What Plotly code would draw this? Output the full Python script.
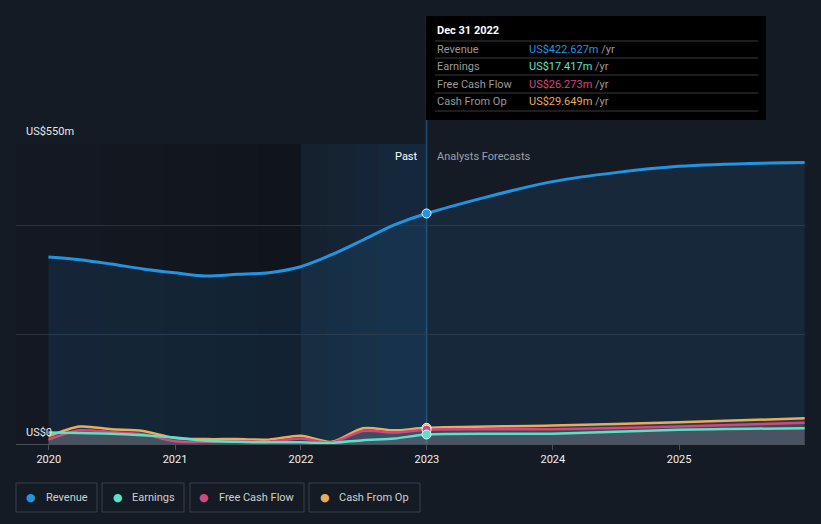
import plotly.graph_objects as go

# ---------------- data ----------------
past_dates = ["2019-12-31", "2020-03-31", "2020-06-30", "2020-09-30", "2020-12-31",
              "2021-03-31", "2021-06-30", "2021-09-30", "2021-12-31",
              "2022-03-31", "2022-06-30", "2022-09-30", "2022-12-31"]
revenue_past = [343, 338, 330, 321, 314, 308, 311, 314, 325, 347, 374, 402, 422.627]
earnings_past = [21, 20, 19, 16, 12, 6, 4, 3, 3, 2, 7, 10, 17.417]
fcf_past = [8, 25, 22, 18, 5, 4, 5, 4, 10, 3, 24, 21, 26.273]
cfo_past = [14, 32, 27, 24, 11, 9, 9, 8, 15, 4, 29, 25, 29.649]

fc_dates = ["2022-12-31", "2023-12-31", "2024-12-31", "2025-12-31"]
revenue_fc = [422.627, 481, 509, 516]
earnings_fc = [17.417, 19, 26, 29]
fcf_fc = [26.273, 27, 32, 39]
cfo_fc = [29.649, 34, 40, 47]

year_ticks = ["2020-01-01", "2021-01-01", "2022-01-01", "2023-01-01", "2024-01-01", "2025-01-01"]
year_labels = ["2020", "2021", "2022", "2023", "2024", "2025"]

series_names = ["Revenue", "Earnings", "Free Cash Flow", "Cash From Op"]
series_colors = ["#2394e0", "#5ee0c8", "#d2487e", "#e8ad5a"]
tooltip_values = ["US$422.627m", "US$17.417m", "US$26.273m", "US$29.649m"]

# ---------------- layout geometry ----------------
W, H = 821, 524
L, R, T, B = 16, 16, 144, 80
PW, PH = W - L - R, H - T - B


def px(x):
    return (x - L) / PW


def py(y):
    return (H - B - y) / PH


BG = "#151b25"
FONT = "Roboto"

fig = go.Figure()

small = [("Cash From Op", cfo_past, cfo_fc, series_colors[3]),
         ("Free Cash Flow", fcf_past, fcf_fc, series_colors[2]),
         ("Earnings", earnings_past, earnings_fc, series_colors[1])]

# revenue
fig.add_trace(go.Scatter(x=past_dates + fc_dates[1:], y=revenue_past + revenue_fc[1:],
                         mode="lines", line=dict(color=series_colors[0], width=3, shape="spline", smoothing=0.8),
                         fill="tozeroy", fillcolor="rgba(35,130,200,0.13)", hoverinfo="skip", showlegend=False))

for name, p, f, c in small:
    fig.add_trace(go.Scatter(x=past_dates + fc_dates[1:], y=p + f[1:], mode="lines",
                             line=dict(color=c, width=2.5, shape="spline", smoothing=0.8),
                             fill="tozeroy", fillcolor="rgba(140,140,150,0.18)",
                             hoverinfo="skip", showlegend=False))

# markers at Dec 31 2022
for vals, c in zip([revenue_past, cfo_past, fcf_past, earnings_past],
                   [series_colors[0], series_colors[3], series_colors[2], series_colors[1]]):
    fig.add_trace(go.Scatter(x=[past_dates[-1]], y=[vals[-1]], mode="markers",
                             marker=dict(color=c, size=9, line=dict(color="#e8f2fa", width=1)),
                             hoverinfo="skip", showlegend=False))

shapes = []
# darker past region, gradient toward 2022
dark_steps = [("2019-09-28", 0.08), ("2020-06-01", 0.03), ("2020-12-01", 0.03), ("2021-05-01", 0.03),
              ("2021-09-01", 0.03)]
for x0, a in dark_steps:
    shapes.append(dict(type="rect", xref="x", yref="paper", x0=x0, x1="2022-01-01", y0=0, y1=1,
                       fillcolor=f"rgba(0,0,0,{a})", line=dict(width=0), layer="below"))
# highlighted last year band, gradient toward 2023
band_steps = [("2022-01-01", 0.07), ("2022-03-15", 0.03), ("2022-06-01", 0.03), ("2022-08-15", 0.03)]
for x0, a in band_steps:
    shapes.append(dict(type="rect", xref="x", yref="paper", x0=x0, x1="2022-12-31", y0=0, y1=1,
                       fillcolor=f"rgba(30,115,180,{a})", line=dict(width=0), layer="below"))
shapes.append(dict(type="line", xref="x", yref="paper", x0="2022-12-31", x1="2022-12-31", y0=0, y1=py(16),
                   line=dict(color="#1f4c6e", width=1.5), layer="below"))
shapes.append(dict(type="rect", xref="paper", yref="paper", x0=px(426), x1=px(766), y0=py(120), y1=py(16),
                   fillcolor="#000000", line=dict(width=0)))
for yy in [41, 58, 75, 93, 111]:
    shapes.append(dict(type="line", xref="paper", yref="paper", x0=px(435), x1=px(758), y0=py(yy), y1=py(yy),
                       line=dict(color="#3a3a3a", width=1)))
legend_boxes = [(16, 97), (102, 184), (190, 304), (309, 420)]
for x0, x1 in legend_boxes:
    shapes.append(dict(type="rect", xref="paper", yref="paper", x0=px(x0), x1=px(x1), y0=py(512), y1=py(483),
                       fillcolor="rgba(0,0,0,0)", line=dict(color="#3a404c", width=1)))

annotations = []
annotations.append(dict(x=px(24), y=py(131), xref="paper", yref="paper", text="US$550m", showarrow=False,
                        xanchor="left", yanchor="middle", font=dict(color="#e8e8e8", size=11, family=FONT)))
annotations.append(dict(x=px(24), y=py(432), xref="paper", yref="paper", text="US$0", showarrow=False,
                        xanchor="left", yanchor="middle", font=dict(color="#e8e8e8", size=11, family=FONT)))
annotations.append(dict(x=px(420), y=py(156), xref="paper", yref="paper", text="Past", showarrow=False,
                        xanchor="right", yanchor="middle", font=dict(color="#ffffff", size=11, family=FONT)))
annotations.append(dict(x=px(435), y=py(156), xref="paper", yref="paper", text="Analysts Forecasts",
                        showarrow=False, xanchor="left", yanchor="middle",
                        font=dict(color="#9aa0a8", size=11, family=FONT)))
annotations.append(dict(x=px(435), y=py(31), xref="paper", yref="paper", text="<b>Dec 31 2022</b>",
                        showarrow=False, xanchor="left", yanchor="middle",
                        font=dict(color="#ffffff", size=11, family=FONT)))
for i, (nm, val, c) in enumerate(zip(series_names, tooltip_values, series_colors)):
    yy = [49, 66, 84, 101][i]
    annotations.append(dict(x=px(435), y=py(yy), xref="paper", yref="paper", text=nm, showarrow=False,
                            xanchor="left", yanchor="middle", font=dict(color="#9a9a9a", size=11, family=FONT)))
    annotations.append(dict(x=px(527), y=py(yy), xref="paper", yref="paper",
                            text=f"<span style='color:{c}'>{val}</span> <span style='color:#9a9a9a'>/yr</span>",
                            showarrow=False, xanchor="left", yanchor="middle",
                            font=dict(color=c, size=11, family=FONT)))
legend_dot_x = [31, 118, 204, 325]
legend_text_x = [44, 130, 217, 337]
for nm, c, dx, tx in zip(series_names, series_colors, legend_dot_x, legend_text_x):
    annotations.append(dict(x=px(dx), y=py(497), xref="paper", yref="paper", text="●", showarrow=False,
                            xanchor="center", yanchor="middle", font=dict(color=c, size=11, family="DejaVu Sans")))
    annotations.append(dict(x=px(tx), y=py(497), xref="paper", yref="paper", text=nm, showarrow=False,
                            xanchor="left", yanchor="middle", font=dict(color="#d0d0d0", size=11, family=FONT)))

fig.update_layout(
    width=W, height=H,
    margin=dict(l=L, r=R, t=T, b=B),
    paper_bgcolor=BG, plot_bgcolor=BG,
    showlegend=False,
    shapes=shapes, annotations=annotations,
    font=dict(family=FONT, color="#e0e0e0", size=11),
    xaxis=dict(type="date", range=["2019-09-28", "2026-01-01"], tickvals=year_ticks, ticktext=year_labels,
               showgrid=False, zeroline=False, showline=False, ticks="outside", ticklen=5,
               tickcolor="#4a505a", tickfont=dict(color="#f0f0f0", size=11, family=FONT), fixedrange=True),
    yaxis=dict(range=[0, 550], tickvals=[0, 200, 400, 550], showticklabels=False,
               showgrid=True, gridcolor="#2a313c", gridwidth=1, zeroline=True, zerolinecolor="#4a505a",
               zerolinewidth=1, showline=False, fixedrange=True),
)

fig.write_html("out.html", config={"displayModeBar": False},
               post_script="document.body.style.margin='0';document.body.style.background='#151b25';")
